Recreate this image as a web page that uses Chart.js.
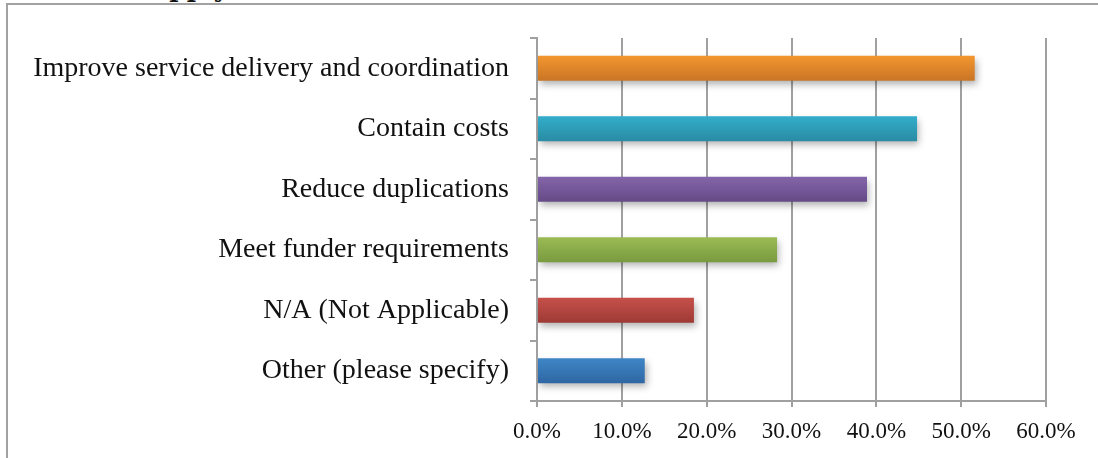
<!DOCTYPE html>
<html>
<head>
<meta charset="utf-8">
<script src="https://cdn.jsdelivr.net/npm/chart.js@4/dist/chart.umd.min.js"></script>
<style>
  html, body { margin: 0; padding: 0; background: #fff; overflow: hidden; }
  #wrap { position: relative; width: 1098px; height: 458px; overflow: hidden; }
  #frame { position: absolute; left: 6px; top: 3px; width: 1100px; height: 470px;
           border-left: 2px solid #a2a2a2; border-top: 2px solid #a2a2a2; }
  #title { position: absolute; left: 153px; top: -26px; font: bold 25px "DejaVu Serif", serif; color: #111; }
  #chart { position: absolute; left: 0; top: 0; }
</style>
</head>
<body>
<div id="wrap">
  <div id="title">apply</div>
  <div id="frame"></div>
  <canvas id="chart" width="1098" height="458"></canvas>
</div>
<script>
// Categories, top to bottom
const categories = [
  'Improve service delivery and coordination',
  'Contain costs',
  'Reduce duplications',
  'Meet funder requirements',
  'N/A (Not Applicable)',
  'Other (please specify)'
];

// Share of responses (fraction)
const shares = [0.516, 0.448, 0.389, 0.283, 0.185, 0.127];

// Bar colours: light top / dark bottom
const topColors = ['#f3962f', '#33aecb', '#8465aa', '#9bbb55', '#c6504a', '#3f86c7'];
const bottomColors = ['#c97526', '#2a8ba3', '#654a86', '#799a3f', '#9e3a35', '#2e67a3'];

const xTicks = [0, 0.1, 0.2, 0.3, 0.4, 0.5, 0.6];

const barPct = 0.41;

function barGradient(context) {
  const chart = context.chart;
  const i = context.dataIndex;
  const yScale = chart.scales.y;
  if (!chart.chartArea || !yScale || i === undefined) return topColors[i || 0];
  const mid = yScale.getPixelForValue(i);
  const half = (chart.chartArea.height / categories.length) * barPct / 2;
  const g = chart.ctx.createLinearGradient(0, mid - half, 0, mid + half);
  g.addColorStop(0, topColors[i]);
  g.addColorStop(1, bottomColors[i]);
  return g;
}

// Soft drop shadow under bars
const shadowPlugin = {
  id: 'barShadow',
  beforeDatasetsDraw(chart) {
    const ctx = chart.ctx;
    ctx.save();
    ctx.shadowColor = 'rgba(0,0,0,0.3)';
    ctx.shadowBlur = 7;
    ctx.shadowOffsetX = 2;
    ctx.shadowOffsetY = 4;
  },
  afterDatasetsDraw(chart) {
    chart.ctx.restore();
  }
};

new Chart(document.getElementById('chart').getContext('2d'), {
  type: 'bar',
  data: {
    labels: categories,
    datasets: [{
      data: shares,
      backgroundColor: barGradient,
      borderWidth: 0,
      barPercentage: 1,
      categoryPercentage: barPct
    }]
  },
  plugins: [shadowPlugin],
  options: {
    indexAxis: 'y',
    responsive: false,
    animation: false,
    layout: { padding: { top: 38, right: 52, left: 10, bottom: 0 } },
    plugins: {
      legend: { display: false },
      tooltip: { enabled: false }
    },
    scales: {
      x: {
        min: 0,
        max: 0.6,
        afterBuildTicks: s => { s.ticks = xTicks.map(v => ({ value: v })); },
        afterFit: s => { s.height = 57; },
        border: { display: true, color: '#a0a0a0', width: 2 },
        grid: { color: '#a0a0a0', lineWidth: 2, tickLength: 6, drawTicks: true },
        ticks: {
          color: '#111',
          padding: 11,
          font: { family: 'Liberation Serif', size: 23 },
          callback: v => (v * 100).toFixed(1) + '%'
        }
      },
      y: {
        afterFit: s => { s.width = 527; },
        border: { display: true, color: '#a0a0a0', width: 2 },
        grid: { color: '#a0a0a0', lineWidth: 2, drawOnChartArea: false, tickLength: 7, offset: true },
        ticks: {
          color: '#111',
          padding: 21,
          font: { family: 'Liberation Serif', size: 28 }
        }
      }
    }
  }
});
</script>
</body>
</html>
